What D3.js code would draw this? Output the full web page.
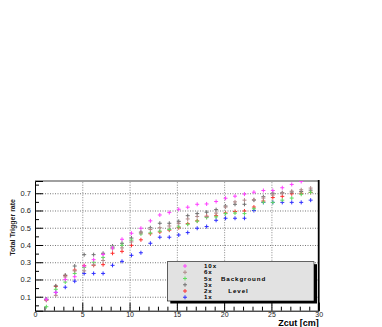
<!DOCTYPE html>
<html>
<head>
<meta charset="utf-8">
<script src="https://cdn.jsdelivr.net/npm/d3@7"></script>
<style>
  body { margin: 0; background: #fff; }
  svg { display: block; }
  text { font-family: "Liberation Sans", Arial, sans-serif; }
</style>
</head>
<body>
<svg id="chart"></svg>
<script>
// Zcut positions (cm) of the points
const zcut = [1.2, 2.2, 3.2, 4.2, 5.2, 6.2, 7.2, 8.2, 9.2, 10.2, 11.2, 12.2, 13.2, 14.2, 15.2,
              16.15, 17.15, 18.15, 19.15, 20.15, 21.15, 22.15, 23.15, 24.15, 25.15, 26.15, 27.15, 28.15, 29.15];

// trigger rate per background level
const rate10x = [0.085, 0.125, 0.200, 0.216, 0.278, 0.315, 0.345, 0.383, 0.433, 0.468, 0.497, 0.540, 0.574, 0.588, 0.607,
                 0.619, 0.636, 0.638, 0.652, 0.671, 0.683, 0.695, 0.706, 0.716, 0.716, 0.732, 0.751, 0.768, 0.785];
const rate6x  = [0.080, 0.108, 0.215, 0.250, 0.250, 0.285, 0.310, 0.378, 0.383, 0.418, 0.470, 0.490, 0.500, 0.510, 0.525,
                 0.551, 0.565, 0.565, 0.585, 0.620, 0.650, 0.660, 0.663, 0.672, 0.690, 0.700, 0.712, 0.720, 0.730];
const rate5x  = [0.042, 0.143, 0.185, 0.235, 0.270, 0.300, 0.328, 0.385, 0.398, 0.428, 0.464, 0.470, 0.480, 0.490, 0.505,
                 0.520, 0.538, 0.559, 0.563, 0.582, 0.585, 0.582, 0.610, 0.648, 0.647, 0.660, 0.672, 0.694, 0.705];
const rate3x  = [0.085, 0.163, 0.225, 0.278, 0.344, 0.344, 0.352, 0.394, 0.410, 0.440, 0.475, 0.500, 0.526, 0.526, 0.537,
                 0.570, 0.582, 0.590, 0.605, 0.626, 0.636, 0.636, 0.660, 0.680, 0.700, 0.703, 0.707, 0.710, 0.718];
const rate2x  = [0.080, 0.160, 0.222, 0.255, 0.280, 0.282, 0.286, 0.352, 0.363, 0.398, 0.430, 0.465, 0.475, 0.486, 0.500,
                 0.524, 0.540, 0.567, 0.570, 0.586, 0.594, 0.597, 0.620, 0.655, 0.675, 0.682, 0.697, 0.700, 0.705];
const rate1x  = [0.085, 0.125, 0.155, 0.190, 0.235, 0.235, 0.235, 0.282, 0.305, 0.340, 0.355, 0.410, 0.445, 0.445, 0.458,
                 0.472, 0.497, 0.507, 0.543, 0.555, 0.555, 0.555, 0.600, 0.647, 0.647, 0.647, 0.647, 0.647, 0.660];

const seriesNames = ['10x', '6x', '5x', '3x', '2x', '1x'];
const seriesColors = ['#ff40ff', '#b08a8a', '#5fdc5f', '#707070', '#ff3030', '#3030ff'];
const seriesValues = [rate10x, rate6x, rate5x, rate3x, rate2x, rate1x];

const xTicks = [0, 5, 10, 15, 20, 25, 30];
const yTicks = [0.1, 0.2, 0.3, 0.4, 0.5, 0.6, 0.7];

const width = 382, height = 327;
const margin = {top: 181, right: 63.3, bottom: 16.3, left: 35};
const plotW = width - margin.left - margin.right;
const plotH = height - margin.top - margin.bottom;

const svg = d3.select('#chart').attr('width', width).attr('height', height);

const x = d3.scaleLinear().domain([0, 30]).range([margin.left, margin.left + plotW]);
const y = d3.scaleLinear().domain([0.019, 0.771]).range([margin.top + plotH, margin.top]);

svg.append('defs').append('clipPath').attr('id', 'frameClip')
  .append('rect')
  .attr('x', margin.left).attr('y', margin.top)
  .attr('width', plotW).attr('height', plotH);

// grid lines (dotted)
const gridY = svg.append('g')
  .attr('transform', `translate(${margin.left},0)`)
  .call(d3.axisLeft(y).tickValues(yTicks).tickSize(-plotW).tickFormat(''));
gridY.select('.domain').remove();
gridY.selectAll('line').attr('stroke', '#777').attr('stroke-dasharray', '1,1.5');

const gridX = svg.append('g')
  .attr('transform', `translate(0,${margin.top + plotH})`)
  .call(d3.axisBottom(x).tickValues([5, 10, 15, 20, 25]).tickSize(-plotH).tickFormat(''));
gridX.select('.domain').remove();
gridX.selectAll('line').attr('stroke', '#888').attr('stroke-dasharray', '1,1.5');

// frame edges
svg.append('line')
  .attr('x1', margin.left).attr('x2', margin.left + plotW)
  .attr('y1', margin.top).attr('y2', margin.top)
  .attr('stroke', '#a0a0a0').attr('stroke-width', 2);
svg.append('line')
  .attr('x1', margin.left + plotW).attr('x2', margin.left + plotW)
  .attr('y1', margin.top - 1).attr('y2', margin.top + plotH)
  .attr('stroke', '#000').attr('stroke-width', 1.8);

// Y axis: major ticks + minor ticks, drawn inside the frame
const yAxis = svg.append('g')
  .attr('transform', `translate(${margin.left},0)`)
  .call(d3.axisLeft(y).tickValues(yTicks).tickSize(-8).tickPadding(4).tickFormat(d3.format('.1f')));
yAxis.select('.domain').attr('stroke', '#000');
yAxis.selectAll('text').attr('font-size', '7.5px').attr('fill', '#222');
const yMinor = svg.append('g')
  .attr('transform', `translate(${margin.left},0)`)
  .call(d3.axisLeft(y).tickValues([0.05, 0.15, 0.25, 0.35, 0.45, 0.55, 0.65, 0.75]).tickSize(-4).tickFormat(''));
yMinor.select('.domain').remove();

// X axis
const xAxis = svg.append('g')
  .attr('transform', `translate(0,${margin.top + plotH})`)
  .call(d3.axisBottom(x).tickValues(xTicks).tickSize(-8).tickPadding(1.5).tickFormat(d3.format('d')));
xAxis.select('.domain').attr('stroke', '#000');
xAxis.selectAll('text').attr('font-size', '7px').attr('fill', '#222');
const xMinor = svg.append('g')
  .attr('transform', `translate(0,${margin.top + plotH})`)
  .call(d3.axisBottom(x).tickValues(d3.range(1, 30).filter(d => d % 5 !== 0)).tickSize(-4).tickFormat(''));
xMinor.select('.domain').remove();

// axis titles
svg.append('text')
  .attr('transform', `translate(14.5,199) rotate(-90)`)
  .attr('text-anchor', 'end')
  .style('font-family', '"Liberation Sans Narrow", "Liberation Sans", sans-serif')
  .attr('font-size', '7px')
  .attr('font-weight', 'bold')
  .attr('fill', '#222')
  .text('Total Trigger rate');

svg.append('text')
  .attr('x', margin.left + plotW).attr('y', 326.3)
  .attr('text-anchor', 'end')
  .attr('font-size', '9px').attr('font-weight', 'bold')
  .text('Zcut [cm]');

// data markers: "+" signs
function drawPlus(g, cx, cy, color, r) {
  g.append('line').attr('x1', cx - r).attr('x2', cx + r).attr('y1', cy).attr('y2', cy)
    .attr('stroke', color).attr('stroke-width', 1);
  g.append('line').attr('x1', cx).attr('x2', cx).attr('y1', cy - r).attr('y2', cy + r)
    .attr('stroke', color).attr('stroke-width', 1);
}

const points = svg.append('g').attr('clip-path', 'url(#frameClip)');
for (let s = seriesValues.length - 1; s >= 0; s--) {
  const g = points.append('g').attr('class', 'series-' + seriesNames[s]);
  seriesValues[s].forEach((v, i) => drawPlus(g, x(zcut[i]), y(v), seriesColors[s], 2));
}

// legend
const leg = {x: 167.3, y: 261.7, w: 146.7, h: 39.3};
svg.append('rect')
  .attr('x', leg.x + 3).attr('y', leg.y + 2.5)
  .attr('width', leg.w).attr('height', leg.h)
  .attr('fill', '#000');
svg.append('rect')
  .attr('x', leg.x).attr('y', leg.y)
  .attr('width', leg.w).attr('height', leg.h)
  .attr('fill', '#e2e2e2').attr('stroke', '#000').attr('stroke-width', 0.6);

const legG = svg.append('g');
const legFont = '6.2px';
seriesNames.forEach((name, i) => {
  const cy = 266 + i * 6.25;
  drawPlus(legG, 185, cy, seriesColors[i], 2);
  legG.append('text')
    .attr('x', 204).attr('y', cy + 2.2)
    .attr('font-size', legFont).attr('font-weight', 'bold')
    .attr('letter-spacing', '0.9px')
    .text(name);
});
legG.append('text')
  .attr('x', 221).attr('y', 266 + 2 * 6.25 + 2.2)
  .attr('font-size', legFont).attr('font-weight', 'bold')
  .attr('letter-spacing', '0.9px')
  .text('Background');
legG.append('text')
  .attr('x', 228.3).attr('y', 266 + 4 * 6.25 + 2.2)
  .attr('font-size', legFont).attr('font-weight', 'bold')
  .attr('letter-spacing', '0.9px')
  .text('Level');
</script>
</body>
</html>
